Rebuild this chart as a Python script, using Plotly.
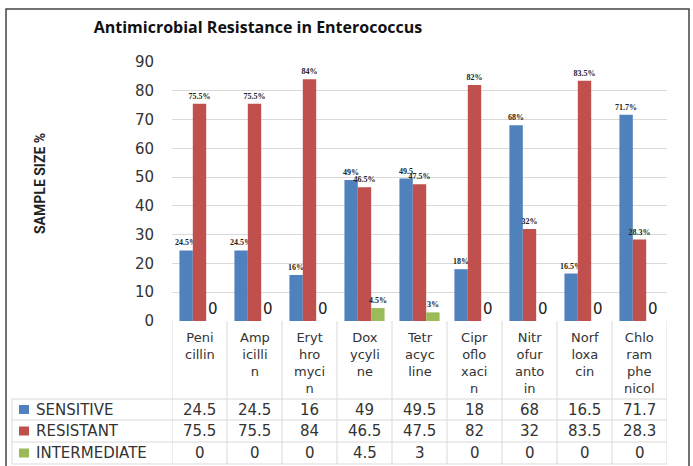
import plotly.graph_objects as go

# ---------------- data ----------------
categories = ["Penicillin", "Ampicillin", "Erythromycin", "Doxycyline", "Tetracycline",
              "Ciprofloxacin", "Nitrofurantoin", "Norfloxacin", "Chloramphenicol"]
header_labels = ["Peni<br>cillin", "Amp<br>icilli<br>n", "Eryt<br>hro<br>myci<br>n",
                 "Dox<br>ycyli<br>ne", "Tetr<br>acyc<br>line", "Cipr<br>oflo<br>xaci<br>n",
                 "Nitr<br>ofur<br>anto<br>in", "Norf<br>loxa<br>cin", "Chlo<br>ram<br>phe<br>nicol"]
series_names = ["SENSITIVE", "RESISTANT", "INTERMEDIATE"]
sensitive = [24.5, 24.5, 16, 49, 49.5, 18, 68, 16.5, 71.7]
resistant = [75.5, 75.5, 84, 46.5, 47.5, 82, 32, 83.5, 28.3]
intermediate = [0, 0, 0, 4.5, 3, 0, 0, 0, 0]
sensitive_labels = ["24.5%", "24.5%", "16%", "49%", "49.5", "18%", "68%", "16.5%", "71.7%"]
resistant_labels = ["75.5%", "75.5%", "84%", "46.5%", "47.5%", "82%", "32%", "83.5%", "28.3%"]
intermediate_labels = ["0", "0", "0", "4.5%", "3%", "0", "0", "0", "0"]
y_ticks = [0, 10, 20, 30, 40, 50, 60, 70, 80, 90]

colors = ["#4F81BD", "#C0504D", "#9BBB59"]
values = [sensitive, resistant, intermediate]
labels = [sensitive_labels, resistant_labels, intermediate_labels]

W, H = 693, 466
L, R, T, B = 172, 26, 62, 145
PW, PH = W - L - R, H - T - B


def px_x(x):
    return (x - L) / PW


def px_y(y):
    return (H - B - y) / PH


SANS = "DejaVu Sans"
SERIF = "Liberation Serif"
TXT = "#333333"

fig = go.Figure()
for name, vals, labs, col in zip(series_names, values, labels, colors):
    sizes = [15 if lab == "0" else 8 for lab in labs]
    fams = [SANS if lab == "0" else SERIF for lab in labs]
    weights = ["normal" if lab == "0" else "bold" for lab in labs]
    fig.add_trace(go.Bar(
        x=categories, y=vals, name=name, marker_color=col,
        marker_line_width=0,
        text=labs, textposition="outside", constraintext="none", cliponaxis=False,
        textfont=dict(size=sizes, family=fams, color="#222222", weight=weights),
        showlegend=False,
    ))

fig.update_layout(
    width=W, height=H,
    margin=dict(l=L, r=R, t=T, b=B),
    paper_bgcolor="white", plot_bgcolor="white",
    barmode="group", bargap=0.27, bargroupgap=0,
    title=dict(text="<b>Antimicrobial Resistance in Enterococcus</b>",
               font=dict(family="Open Sans", size=16, color="#111111"),
               xref="paper", x=px_x(258), xanchor="center",
               y=1 - 27 / H, yanchor="middle"),
    font=dict(family=SANS, size=14, color=TXT),
)
fig.update_xaxes(showticklabels=False, showgrid=False, zeroline=False, showline=False,
                 range=[-0.5, len(categories) - 0.5])
fig.update_yaxes(range=[0, 90], tickvals=y_ticks, showgrid=True, gridcolor="#D9D9D9",
                 gridwidth=1, zeroline=False, showline=False,
                 tickfont=dict(family=SANS, size=15, color=TXT),
                 ticklabelstandoff=17)

ann = []
# y axis title
ann.append(dict(text="<b>SAMPLE SIZE %</b>", textangle=-90, xref="paper", yref="paper",
                x=px_x(40), y=px_y(184), xanchor="center", yanchor="middle", showarrow=False,
                font=dict(family="Liberation Sans Narrow, Roboto, sans-serif", size=14,
                          color="#222222")))
# category header labels
for cat, lab in zip(categories, header_labels):
    ann.append(dict(text=lab, xref="x", yref="paper", x=cat, y=px_y(329),
                    yanchor="top", valign="top", showarrow=False, borderpad=0,
                    font=dict(family=SANS, size=13, color=TXT)))
# table rows
row_centers = [409.5, 431, 453]
for name, vals, col, yc in zip(series_names, values, colors, row_centers):
    ann.append(dict(text=name, xref="paper", yref="paper", x=px_x(34), y=px_y(yc),
                    xanchor="left", yanchor="middle", showarrow=False,
                    font=dict(family=SANS, size=15, color=TXT)))
    for cat, v in zip(categories, vals):
        ann.append(dict(text=f"{v:g}", xref="x", yref="paper", x=cat, y=px_y(yc),
                        yanchor="middle", showarrow=False,
                        font=dict(family=SANS, size=15, color=TXT)))

shapes = []
grid_col = "#D9D9D9"
# legend keys
for col, yc in zip(colors, row_centers):
    shapes.append(dict(type="rect", xref="paper", yref="paper",
                       x0=px_x(19), x1=px_x(29), y0=px_y(yc - 4.5), y1=px_y(yc + 4.5),
                       fillcolor=col, line_width=0))
# table horizontal lines
for yl in [399, 420, 442, 464]:
    shapes.append(dict(type="line", xref="paper", yref="paper", x0=px_x(12), x1=1,
                       y0=px_y(yl), y1=px_y(yl), line=dict(color=grid_col, width=1)))
# table vertical lines
for i in range(len(categories) + 1):
    shapes.append(dict(type="line", xref="x", yref="paper", x0=i - 0.5, x1=i - 0.5,
                       y0=0, y1=px_y(464), line=dict(color=grid_col, width=1)))
shapes.append(dict(type="line", xref="paper", yref="paper", x0=px_x(12), x1=px_x(12),
                   y0=px_y(399), y1=px_y(464), line=dict(color=grid_col, width=1)))
# outer frame
shapes.append(dict(type="rect", xref="paper", yref="paper",
                   x0=px_x(6), x1=px_x(689), y0=px_y(9), y1=px_y(470),
                   line=dict(color="#444444", width=1.5), fillcolor="rgba(0,0,0,0)"))

fig.update_layout(annotations=ann, shapes=shapes)
fig.write_html("out.html", config={"displayModeBar": False},
               post_script="document.body.style.margin='0';document.body.style.overflow='hidden';")
